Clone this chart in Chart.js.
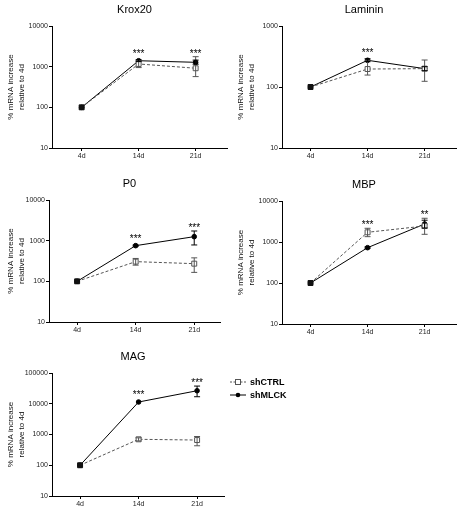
<!DOCTYPE html>
<html>
<head>
<meta charset="utf-8">
<script src="https://cdn.jsdelivr.net/npm/chart.js@4.4.0/dist/chart.umd.min.js"></script>
<style>
  body { margin: 0; width: 461px; height: 511px; overflow: hidden; position: relative; background: #fff; font-family: Arial, "Liberation Sans", sans-serif; }
  canvas { position: absolute; }
  #legend { position: absolute; left: 230px; top: 375px; font-size: 9px; font-weight: bold; color: #000; }
  #legend .row { display: flex; align-items: center; height: 13px; }
  #legend svg { margin-right: 4px; }
</style>
</head>
<body>
<canvas id="krox20" width="232" height="165" style="left:0px;top:0px"></canvas>
<canvas id="laminin" width="231" height="165" style="left:230px;top:0px"></canvas>
<canvas id="p0" width="230" height="175" style="left:0px;top:165px"></canvas>
<canvas id="mbp" width="231" height="178" style="left:230px;top:165px"></canvas>
<canvas id="mag" width="230" height="181" style="left:0px;top:330px"></canvas>
<div id="legend">
  <div class="row"><svg width="16" height="8"><line x1="0" y1="4" x2="16" y2="4" stroke="#555" stroke-dasharray="2,1.5"/><rect x="5.5" y="1.5" width="5" height="5" fill="#fff" stroke="#555"/></svg>shCTRL</div>
  <div class="row"><svg width="16" height="8"><line x1="0" y1="4" x2="16" y2="4" stroke="#000"/><circle cx="8" cy="4" r="2.3" fill="#000"/></svg>shMLCK</div>
</div>
<script>
const days = ['4d', '14d', '21d'];

// values; error bars kept as [low, high]
const krox20Ctrl = [100, 1165, 915];
const krox20CtrlErr = [[100, 100], [950, 1400], [570, 1760]];
const krox20Mlck = [100, 1400, 1280];
const krox20MlckErr = [[100, 100], [1330, 1480], [1150, 1450]];
const krox20Stars = ['', '***', '***'];
const krox20Ticks = [10, 100, 1000, 10000];

const lamininCtrl = [100, 197, 200];
const lamininCtrlErr = [[100, 100], [157, 275], [124, 277]];
const lamininMlck = [100, 274, 200];
const lamininMlckErr = [[100, 100], [260, 290], [185, 215]];
const lamininStars = ['', '***', ''];
const lamininTicks = [10, 100, 1000];

const p0Ctrl = [100, 305, 272];
const p0CtrlErr = [[100, 100], [250, 365], [166, 378]];
const p0Mlck = [100, 754, 1254];
const p0MlckErr = [[100, 100], [730, 780], [784, 1730]];
const p0Stars = ['', '***', '***'];
const p0Ticks = [10, 100, 1000, 10000];

const mbpCtrl = [100, 1725, 2455];
const mbpCtrlErr = [[100, 100], [1350, 2160], [1540, 3790]];
const mbpMlck = [100, 727, 2750];
const mbpMlckErr = [[100, 100], [700, 760], [2200, 3400]];
const mbpStars = ['', '***', '**'];
const mbpTicks = [10, 100, 1000, 10000];

const magCtrl = [100, 698, 660];
const magCtrlErr = [[100, 100], [620, 780], [430, 860]];
const magMlck = [100, 11400, 26500];
const magMlckErr = [[100, 100], [11000, 11800], [16900, 37600]];
const magStars = ['', '***', '***'];
const magTicks = [10, 100, 1000, 10000, 100000];

const panels = [
  { id: 'krox20', title: 'Krox20', ctrl: krox20Ctrl, ctrlErr: krox20CtrlErr, mlck: krox20Mlck, mlckErr: krox20MlckErr, stars: krox20Stars, ticks: krox20Ticks,
    pad: { top: 26, right: 2 }, yWidth: 52, xHeight: 17, xMin: -0.52, xMax: 2.55 },
  { id: 'laminin', title: 'Laminin', ctrl: lamininCtrl, ctrlErr: lamininCtrlErr, mlck: lamininMlck, mlckErr: lamininMlckErr, stars: lamininStars, ticks: lamininTicks,
    pad: { top: 26, right: 1 }, yWidth: 52, xHeight: 17, xMin: -0.5, xMax: 2.55 },
  { id: 'p0', title: 'P0', ctrl: p0Ctrl, ctrlErr: p0CtrlErr, mlck: p0Mlck, mlckErr: p0MlckErr, stars: p0Stars, ticks: p0Ticks,
    pad: { top: 35, right: 10 }, yWidth: 49, xHeight: 18, xMin: -0.48, xMax: 2.44 },
  { id: 'mbp', title: 'MBP', ctrl: mbpCtrl, ctrlErr: mbpCtrlErr, mlck: mbpMlck, mlckErr: mbpMlckErr, stars: mbpStars, ticks: mbpTicks,
    pad: { top: 36, right: 1 }, yWidth: 52, xHeight: 19, xMin: -0.5, xMax: 2.55 },
  { id: 'mag', title: 'MAG', ctrl: magCtrl, ctrlErr: magCtrlErr, mlck: magMlck, mlckErr: magMlckErr, stars: magStars, ticks: magTicks,
    pad: { top: 43, right: 6 }, yWidth: 52, xHeight: 15, xMin: -0.48, xMax: 2.46 }
];

// error bars, significance stars and panel title
const extras = {
  id: 'extras',
  afterDatasetsDraw(chart, args, opts) {
    const { ctx, chartArea, scales: { x, y } } = chart;
    ctx.save();
    ctx.setLineDash([]);
    ctx.lineWidth = 1;
    chart.data.datasets.forEach(ds => {
      ctx.strokeStyle = ds.borderColor;
      ds.err.forEach((e, i) => {
        const px = x.getPixelForValue(i);
        const lo = y.getPixelForValue(e[0]);
        const hi = y.getPixelForValue(e[1]);
        if (Math.abs(lo - hi) < 1) return;
        ctx.beginPath();
        ctx.moveTo(px, lo); ctx.lineTo(px, hi);
        ctx.moveTo(px - 3, lo); ctx.lineTo(px + 3, lo);
        ctx.moveTo(px - 3, hi); ctx.lineTo(px + 3, hi);
        ctx.stroke();
      });
    });

    ctx.fillStyle = '#000';
    ctx.font = '10px Arial';
    ctx.textAlign = 'center';
    ctx.textBaseline = 'alphabetic';
    opts.stars.forEach((s, i) => {
      if (!s) return;
      let py = Infinity;
      chart.data.datasets.forEach(ds => {
        py = Math.min(py, y.getPixelForValue(ds.err[i][1]) - 5, y.getPixelForValue(ds.data[i].y) - 9);
      });
      ctx.fillText(s, x.getPixelForValue(i), py + 5);
    });

    ctx.font = '11px Arial';
    ctx.textBaseline = 'middle';
    ctx.fillText(opts.title, (chartArea.left + chartArea.right) / 2 - 5, chartArea.top - 16);
    ctx.restore();
  }
};

panels.forEach(p => {
  const ctx = document.getElementById(p.id).getContext('2d');
  new Chart(ctx, {
    type: 'line',
    data: {
      datasets: [
        {
          label: 'shCTRL',
          data: p.ctrl.map((v, i) => ({ x: i, y: v })),
          err: p.ctrlErr,
          borderColor: '#555',
          borderWidth: 1,
          borderDash: [3, 2],
          pointStyle: 'rect',
          pointRadius: 3.5,
          pointBorderWidth: 1,
          pointBackgroundColor: ['#111', '#fff', '#fff'],
          pointBorderColor: ['#111', '#555', '#555'],
          tension: 0
        },
        {
          label: 'shMLCK',
          data: p.mlck.map((v, i) => ({ x: i, y: v })),
          err: p.mlckErr,
          borderColor: '#000',
          borderWidth: 1,
          pointStyle: 'circle',
          pointRadius: 2.3,
          pointBackgroundColor: '#000',
          pointBorderColor: '#000',
          tension: 0
        }
      ]
    },
    options: {
      responsive: false,
      animation: false,
      devicePixelRatio: 1,
      layout: { padding: { top: p.pad.top, right: p.pad.right, left: 0, bottom: 0 } },
      scales: {
        x: {
          type: 'linear',
          min: p.xMin,
          max: p.xMax,
          afterBuildTicks: s => { s.ticks = days.map((d, i) => ({ value: i })); },
          afterFit: s => { s.height = p.xHeight; },
          ticks: {
            callback: v => days[v],
            font: { family: 'Arial', size: 7 },
            color: '#222',
            padding: 1,
            maxRotation: 0
          },
          grid: { display: true, drawOnChartArea: false, drawTicks: true, tickLength: 3, color: '#000' },
          border: { display: true, color: '#000', width: 1 }
        },
        y: {
          type: 'logarithmic',
          min: p.ticks[0],
          max: p.ticks[p.ticks.length - 1],
          afterBuildTicks: s => { s.ticks = p.ticks.map(v => ({ value: v })); },
          afterFit: s => { s.width = p.yWidth; },
          ticks: {
            callback: v => String(v),
            font: { family: 'Arial', size: 7 },
            color: '#222',
            padding: 1
          },
          grid: { display: true, drawOnChartArea: false, drawTicks: true, tickLength: 3, color: '#000' },
          border: { display: true, color: '#000', width: 1 },
          title: {
            display: true,
            text: ['% mRNA increase', 'relative to 4d'],
            font: { family: 'Arial', size: 8, lineHeight: 1.35 },
            color: '#111',
            padding: { top: 5.6, bottom: 0 }
          }
        }
      },
      plugins: {
        legend: { display: false },
        tooltip: { enabled: false },
        extras: { title: p.title, stars: p.stars }
      }
    },
    plugins: [extras]
  });
});
</script>
</body>
</html>
